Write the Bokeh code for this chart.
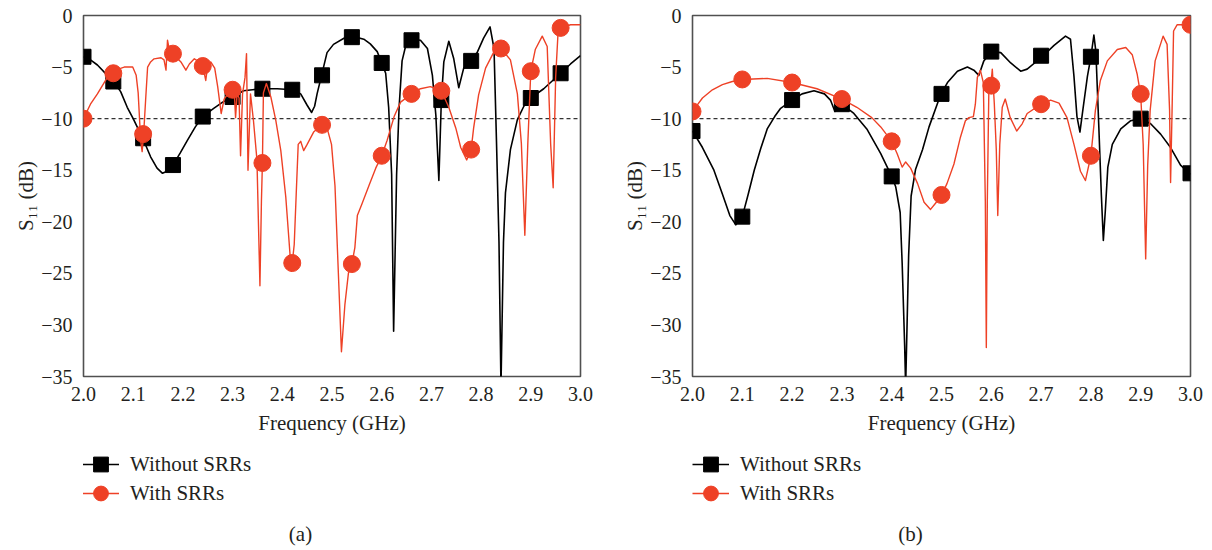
from bokeh.plotting import figure
from bokeh.models import Range1d, FixedTicker, Legend, LegendItem, Span, NumeralTickFormatter, Label
from bokeh.layouts import row, column
from bokeh.embed import file_html
from bokeh.resources import INLINE

# ---------------- data ----------------
# Panel (a): curve without SRRs
a_without_f = [2.000, 2.014, 2.028, 2.048, 2.061, 2.075, 2.088, 2.100, 2.108, 2.120, 2.135, 2.148, 2.159,
               2.168, 2.180, 2.195, 2.209, 2.225, 2.240, 2.262, 2.280, 2.300, 2.322, 2.340, 2.360, 2.390,
               2.420, 2.437, 2.450, 2.459, 2.465, 2.470, 2.479, 2.490, 2.503, 2.524, 2.540, 2.564, 2.577,
               2.591, 2.600, 2.608, 2.614, 2.620, 2.624, 2.630, 2.635, 2.641, 2.651, 2.660, 2.678, 2.692,
               2.702, 2.709, 2.715, 2.720, 2.725, 2.735, 2.745, 2.755, 2.765, 2.780, 2.792, 2.805, 2.818,
               2.826, 2.831, 2.836, 2.840, 2.845, 2.849, 2.859, 2.873, 2.886, 2.900, 2.926, 2.960, 2.980, 3.000]
a_without_db = [-4.0, -4.3, -4.8, -5.8, -6.4, -7.4, -8.9, -10.0, -10.8, -12.0, -13.7, -14.8, -15.3,
                -15.1, -14.5, -13.3, -12.1, -10.8, -9.8, -9.0, -8.4, -7.9, -7.3, -7.2, -7.1, -7.1,
                -7.2, -7.6, -8.7, -9.4, -8.8, -7.6, -5.8, -3.6, -2.8, -2.2, -2.0, -2.3, -2.75,
                -3.5, -4.6, -5.6, -8.9, -15.4, -30.6, -15.4, -8.9, -4.4, -2.4, -2.3, -2.4, -3.2,
                -5.8, -9.7, -16.0, -8.2, -4.5, -2.5, -4.2, -7.0, -5.1, -4.3, -3.6, -2.2, -1.1,
                -3.2, -12.3, -22.0, -36.0, -22.0, -17.2, -13.0, -10.1, -8.8, -8.0, -7.1, -5.6, -4.7, -3.9]
# Panel (a): curve with SRRs
a_with_f = [2.000, 2.014, 2.028, 2.048, 2.060, 2.070, 2.082, 2.099, 2.106, 2.110, 2.115, 2.118, 2.121,
            2.125, 2.129, 2.135, 2.142, 2.156, 2.162, 2.166, 2.169, 2.173, 2.180, 2.196, 2.206, 2.213,
            2.223, 2.233, 2.240, 2.246, 2.250, 2.256, 2.264, 2.270, 2.277, 2.283, 2.292, 2.300, 2.304,
            2.306, 2.309, 2.313, 2.316, 2.320, 2.325, 2.328, 2.331, 2.336, 2.342, 2.349, 2.355, 2.358,
            2.360, 2.362, 2.368, 2.377, 2.387, 2.397, 2.407, 2.413, 2.418, 2.420, 2.424, 2.428, 2.432,
            2.437, 2.443, 2.450, 2.463, 2.480, 2.490, 2.499, 2.506, 2.512, 2.519, 2.526, 2.533, 2.540,
            2.546, 2.551, 2.560, 2.575, 2.588, 2.600, 2.611, 2.625, 2.638, 2.660, 2.678, 2.698, 2.720,
            2.735, 2.749, 2.759, 2.771, 2.780, 2.785, 2.795, 2.809, 2.826, 2.840, 2.859, 2.873, 2.881,
            2.888, 2.894, 2.900, 2.909, 2.923, 2.933, 2.940, 2.945, 2.950, 2.955, 2.960, 2.980, 3.000]
a_with_db = [-10.0, -8.6, -7.6, -6.0, -5.6, -5.2, -5.0, -5.0, -5.8, -7.5, -12.1, -13.2, -11.5,
             -8.2, -5.0, -4.5, -4.2, -4.1, -4.3, -5.3, -2.4, -3.4, -3.7, -4.5, -5.3, -4.7,
             -4.2, -4.5, -4.9, -6.3, -4.8, -4.5, -5.1, -6.9, -9.5, -8.1, -7.5, -7.2, -8.0,
             -9.9, -7.6, -8.0, -13.6, -7.6, -6.0, -3.7, -15.0, -7.6, -10.2, -14.0, -26.2, -18.0,
             -14.3, -7.5, -6.6, -7.9, -10.2, -13.1, -17.6, -21.5, -24.8, -24.0, -22.2, -17.3, -12.5,
             -12.2, -13.1, -12.5, -11.3, -10.6, -10.9, -12.5, -16.5, -24.0, -32.6, -28.0, -25.0, -24.1,
             -22.5, -19.4, -18.3, -16.4, -14.8, -13.6, -12.1, -9.8, -8.4, -7.6, -7.1, -6.9, -7.3,
             -8.9, -10.9, -12.8, -14.0, -13.0, -10.9, -7.7, -5.1, -3.5, -3.2, -4.3, -7.6, -12.4,
             -21.3, -12.4, -5.4, -3.3, -2.0, -3.0, -12.5, -16.7, -6.0, -1.5, -1.2, -0.9, -0.9]
# Panel (a) markers
a_sq_f = [2.00, 2.06, 2.12, 2.18, 2.24, 2.30, 2.36, 2.42, 2.48, 2.54, 2.60, 2.66, 2.72, 2.78, 2.90, 2.96]
a_sq_db = [-4.0, -6.4, -11.9, -14.5, -9.8, -7.9, -7.1, -7.2, -5.8, -2.1, -4.6, -2.4, -8.2, -4.4, -8.0, -5.6]
a_ci_f = [2.00, 2.06, 2.12, 2.18, 2.24, 2.30, 2.36, 2.42, 2.48, 2.54, 2.60, 2.66, 2.72, 2.78, 2.84, 2.90, 2.96]
a_ci_db = [-10.0, -5.6, -11.5, -3.7, -4.9, -7.2, -14.3, -24.0, -10.6, -24.1, -13.6, -7.6, -7.3, -13.0, -3.2, -5.4, -1.2]

# Panel (b): curve without SRRs
b_without_f = [2.000, 2.020, 2.043, 2.060, 2.075, 2.087, 2.100, 2.112, 2.124, 2.137, 2.150, 2.165, 2.177,
               2.200, 2.220, 2.244, 2.265, 2.277, 2.286, 2.293, 2.300, 2.324, 2.350, 2.378, 2.400, 2.408,
               2.417, 2.421, 2.426, 2.428, 2.431, 2.434, 2.439, 2.448, 2.462, 2.475, 2.498, 2.512, 2.532,
               2.552, 2.565, 2.575, 2.585, 2.600, 2.619, 2.639, 2.659, 2.672, 2.702, 2.726, 2.749, 2.759,
               2.766, 2.772, 2.778, 2.784, 2.793, 2.800, 2.806, 2.810, 2.816, 2.821, 2.825, 2.829, 2.834,
               2.843, 2.860, 2.880, 2.900, 2.920, 2.940, 2.960, 2.980, 3.000]
b_without_db = [-11.2, -12.8, -15.0, -17.3, -19.4, -20.3, -19.5, -17.3, -15.0, -12.9, -11.0, -9.8, -9.0,
                -8.2, -7.6, -7.3, -7.6, -8.2, -9.3, -9.0, -8.6, -9.5, -11.0, -13.4, -15.6, -16.6,
                -19.1, -24.0, -32.0, -36.0, -29.7, -23.3, -17.5, -14.9, -13.0, -10.8, -7.7, -6.5, -5.4,
                -5.0, -5.3, -5.8, -4.4, -3.5, -3.6, -4.6, -5.4, -5.2, -4.0, -2.9, -2.0, -2.3,
                -5.9, -9.8, -11.3, -9.1, -5.9, -4.0, -1.9, -3.5, -10.9, -17.4, -21.8, -18.9, -14.7,
                -12.5, -11.0, -10.2, -10.0, -10.5, -11.5, -12.8, -14.5, -15.4]
# Panel (b): curve with SRRs
b_with_f = [2.000, 2.020, 2.040, 2.060, 2.080, 2.100, 2.150, 2.200, 2.250, 2.300, 2.330, 2.360, 2.378,
            2.400, 2.411, 2.421, 2.428, 2.438, 2.452, 2.465, 2.478, 2.488, 2.500, 2.511, 2.525, 2.538,
            2.548, 2.555, 2.564, 2.568, 2.572, 2.578, 2.584, 2.588, 2.590, 2.592, 2.595, 2.599, 2.602,
            2.606, 2.610, 2.613, 2.617, 2.622, 2.628, 2.638, 2.651, 2.662, 2.672, 2.700, 2.719, 2.736,
            2.752, 2.766, 2.779, 2.789, 2.800, 2.809, 2.819, 2.833, 2.853, 2.870, 2.883, 2.893, 2.900,
            2.905, 2.910, 2.914, 2.919, 2.929, 2.945, 2.953, 2.958, 2.960, 2.963, 2.966, 2.973, 3.000]
b_with_db = [-9.3, -8.0, -7.2, -6.7, -6.4, -6.2, -6.1, -6.5, -7.1, -8.1, -8.9, -9.9, -10.8,
             -12.2, -13.4, -14.7, -14.2, -14.8, -16.3, -18.1, -18.8, -18.2, -17.4, -16.3, -14.4, -11.8,
             -10.2, -9.9, -9.8, -8.6, -6.0, -5.3, -6.5, -18.0, -32.2, -18.0, -7.5, -6.9, -5.2,
             -8.5, -13.0, -19.4, -12.5, -8.9, -8.1, -9.9, -11.2, -10.5, -9.5, -8.6, -8.2, -8.5,
             -9.9, -12.5, -15.1, -16.0, -13.6, -9.2, -6.3, -4.4, -3.3, -3.1, -3.8, -5.7, -7.7,
             -12.5, -23.6, -14.6, -9.2, -4.4, -2.0, -2.8, -9.2, -16.2, -9.2, -1.5, -0.9, -0.9]
# Panel (b) markers
b_mk_f = [2.0, 2.1, 2.2, 2.3, 2.4, 2.5, 2.6, 2.7, 2.8, 2.9, 3.0]
b_sq_db = [-11.2, -19.5, -8.2, -8.6, -15.6, -7.6, -3.5, -3.9, -4.0, -10.0, -15.3]
b_ci_db = [-9.3, -6.2, -6.5, -8.1, -12.2, -17.4, -6.8, -8.6, -13.6, -7.6, -0.9]

x_ticks = [2.0, 2.1, 2.2, 2.3, 2.4, 2.5, 2.6, 2.7, 2.8, 2.9, 3.0]
y_ticks = [-35, -30, -25, -20, -15, -10, -5, 0]
y_tick_labels = {t: ("0" if t == 0 else "\u2212" + str(-t)) for t in y_ticks}
threshold_db = -10
series_names = ["Without SRRs", "With SRRs"]
captions = ["(a)", "(b)"]

# ---------------- style ----------------
FONT = "Liberation Serif"
TXT = "#231F20"
RED = "#EE4126"
BLACK = "#000000"
SQ_SIZE = 15
CI_SIZE = 17


def style_axes(p):
    for ax in (p.xaxis[0], p.yaxis[0]):
        ax.axis_line_color = None
        ax.major_tick_line_color = None
        ax.minor_tick_line_color = None
        ax.major_tick_out = 0
        ax.major_tick_in = 0
        ax.minor_tick_out = 0
        ax.minor_tick_in = 0
        ax.major_label_text_font = FONT
        ax.major_label_text_font_size = "20px"
        ax.major_label_text_color = TXT
        ax.axis_label_text_font = FONT
        ax.axis_label_text_font_size = "21px"
        ax.axis_label_text_font_style = "normal"
        ax.axis_label_text_color = TXT
    p.xaxis.ticker = FixedTicker(ticks=x_ticks)
    p.xaxis.formatter = NumeralTickFormatter(format="0.0")
    p.xaxis.major_label_standoff = 10
    p.xaxis.axis_label = "Frequency (GHz)"
    p.xaxis.axis_label_standoff = 7
    p.yaxis.ticker = FixedTicker(ticks=y_ticks)
    p.yaxis.major_label_overrides = y_tick_labels
    p.yaxis.major_label_standoff = 11
    p.yaxis.axis_label = "S\u2081\u2081 (dB)"
    p.yaxis.axis_label_standoff = 0


def add_series(p, wf, wdb, rf, rdb, sqf, sqdb, cf, cdb):
    l_b = p.line(wf, wdb, line_color=BLACK, line_width=1.6, line_join="round")
    s_b = p.scatter(sqf, sqdb, marker="square", size=SQ_SIZE, fill_color=BLACK, line_color=BLACK)
    l_r = p.line(rf, rdb, line_color=RED, line_width=1.4, line_join="round")
    s_r = p.scatter(cf, cdb, marker="circle", size=CI_SIZE, fill_color=RED, line_color=RED)
    return l_b, s_b, l_r, s_r


def build_plot(series, bl, br, w):
    p = figure(width=w, height=440,
               min_border_left=bl, min_border_right=br, min_border_top=15, min_border_bottom=64,
               x_range=Range1d(2.0, 3.0), y_range=Range1d(-35, 0),
               output_backend="svg", toolbar_location=None,
               background_fill_color="white", border_fill_color="white")
    p.grid.visible = False
    p.outline_line_color = "#505050"
    p.outline_line_width = 1.6
    p.add_layout(Span(location=threshold_db, dimension="width", line_dash="4 3",
                      line_color="#333333", line_width=1.3, level="underlay"))
    add_series(p, *series)
    style_axes(p)
    return p


def build_legend(series, caption, w, leg_x, cap_x):
    # Same series drawn in a key-only panel; its ranges keep the marks out of view,
    # so only the legend swatches and the caption are seen.
    q = figure(width=w, height=110, min_border=0,
               x_range=Range1d(0, 1), y_range=Range1d(0, 1),
               x_axis_type=None, y_axis_type=None,
               output_backend="svg", toolbar_location=None,
               background_fill_color="white", border_fill_color="white")
    q.grid.visible = False
    q.outline_line_color = None
    l_b, s_b, l_r, s_r = add_series(q, *series)
    common = dict(orientation="vertical", glyph_width=37, glyph_height=38, label_height=38,
                  padding=0, margin=0, label_standoff=11,
                  label_text_font=FONT, label_text_font_size="21px", label_text_color=TXT,
                  border_line_color=None, background_fill_alpha=0)
    q.add_layout(Legend(items=[LegendItem(label=series_names[0], renderers=[l_b, s_b])],
                        location=(leg_x, 67), **common))
    q.add_layout(Legend(items=[LegendItem(label=series_names[1], renderers=[l_r, s_r])],
                        location=(leg_x, 38), **common))
    q.add_layout(Label(x=cap_x, y=17, x_units="screen", y_units="screen", text=caption,
                       text_align="center", text_baseline="middle",
                       text_font=FONT, text_font_size="21px", text_color=TXT))
    return q


series_a = (a_without_f, a_without_db, a_with_f, a_with_db, a_sq_f, a_sq_db, a_ci_f, a_ci_db)
series_b = (b_without_f, b_without_db, b_with_f, b_with_db, b_mk_f, b_sq_db, b_mk_f, b_ci_db)

pa = build_plot(series_a, 83, 26, 606)
pb = build_plot(series_b, 86, 22, 606)
la = build_legend(series_a, captions[0], 606, -1, 217)
lb = build_legend(series_b, captions[1], 606, 0, 218)

layout = row(column(pa, la), column(pb, lb))
open("out.html", "w").write(file_html(layout, INLINE))
